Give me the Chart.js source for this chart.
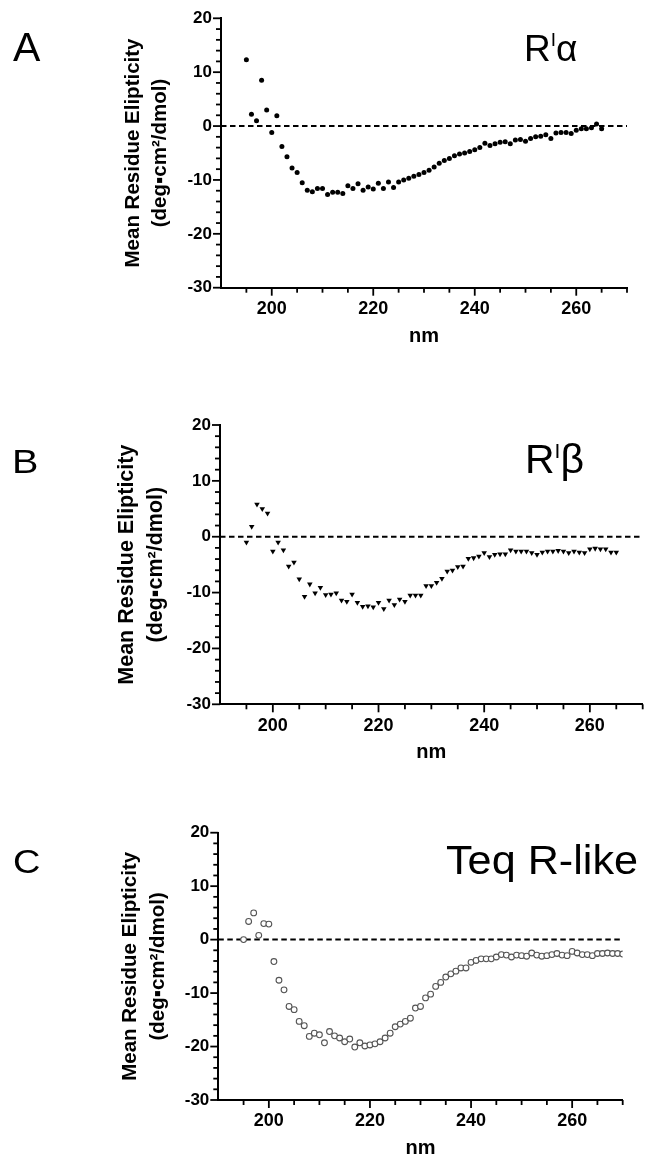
<!DOCTYPE html>
<html><head><meta charset="utf-8">
<script src="https://cdn.jsdelivr.net/npm/chart.js@4.4.1/dist/chart.umd.min.js"></script>
<style>
html,body{margin:0;padding:0;background:#fff;}
#page{position:relative;width:647px;height:1161px;overflow:hidden;font-family:"Liberation Sans",Arial,sans-serif;color:#000;}
.cv{position:absolute;left:0;width:647px;}
.lbl{position:absolute;white-space:nowrap;line-height:1;font-family:"Liberation Sans",Arial,sans-serif;color:#000;}
</style></head><body>
<div id="page">
  <div class="cv" style="top:0px;height:350px"><canvas id="cA"></canvas></div>
  <div class="cv" style="top:390px;height:380px"><canvas id="cB"></canvas></div>
  <div class="cv" style="top:790px;height:371px"><canvas id="cC"></canvas></div>

  <div class="lbl" style="left:13px;top:27px;font-size:41px;">A</div>
  <div class="lbl" style="left:12px;top:445px;font-size:33px;transform:scaleX(1.2);transform-origin:left top;">B</div>
  <div class="lbl" style="left:13px;top:845px;font-size:33px;transform:scaleX(1.15);transform-origin:left top;">C</div>

  <div class="lbl" style="left:524px;top:30px;font-size:37px;">R<span style="font-size:19px;position:relative;top:-14.7px;">I</span>α</div>
  <div class="lbl" style="left:525px;top:439px;font-size:41px;">R<span style="font-size:21px;position:relative;top:-15.3px;">I</span>β</div>
  <div class="lbl" style="left:446px;top:840px;font-size:40px;transform:scaleX(1.08);transform-origin:left top;">Teq R-like</div>
</div>
<script>
// ---- data ----
const nmA = [195,196,197,198,199,200,201,202,203,204,205,206,207,208,209,210,211,212,213,214,215,216,217,218,219,220,221,222,223,224,225,226,227,228,229,230,231,232,233,234,235,236,237,238,239,240,241,242,243,244,245,246,247,248,249,250,251,252,253,254,255,256,257,258,259,260,261,262,263,264,265];
const valA = [12.3,2.2,1.0,8.5,3.0,-1.2,1.9,-3.8,-5.7,-7.8,-8.6,-10.5,-11.9,-12.2,-11.6,-11.6,-12.7,-12.3,-12.3,-12.5,-11.1,-11.6,-10.7,-11.9,-11.3,-11.7,-10.6,-11.6,-10.4,-11.4,-10.4,
  -10.0,-9.7,-9.3,-9.0,-8.6,-8.2,-7.6,-6.9,-6.4,-6.0,-5.5,-5.2,-5.0,-4.7,-4.4,-4.0,-3.2,-3.6,-3.3,-3.0,-2.9,-3.3,-2.6,-2.5,-2.8,-2.3,-2.0,-1.9,-1.6,-2.3,-1.3,-1.2,-1.2,-1.4,-0.8,-0.5,-0.5,-0.3,0.4,-0.5];

const nmB = [195,196,197,198,199,200,201,202,203,204,205,206,207,208,209,210,211,212,213,214,215,216,217,218,219,220,221,222,223,224,225,226,227,228,229,230,231,232,233,234,235,236,237,238,239,240,241,242,243,244,245,246,247,248,249,250,251,252,253,254,255,256,257,258,259,260,261,262,263,264,265];
const valB = [-1.0,1.8,5.8,5.0,4.2,-2.6,-1.0,-2.4,-5.3,-4.6,-7.6,-10.7,-8.5,-10.1,-9.1,-10.4,-10.3,-10.1,-11.4,-11.6,-10.3,-11.8,-12.5,-12.4,-12.6,-11.8,-12.9,-11.4,-12.2,-11.2,
  -11.6,-10.5,-10.5,-10.5,-8.8,-8.8,-8.2,-7.5,-6.2,-6.0,-5.4,-5.3,-3.9,-3.8,-3.5,-2.9,-3.6,-3.2,-3.1,-3.1,-2.4,-2.6,-2.6,-2.6,-2.9,-3.2,-2.8,-2.6,-2.6,-2.5,-2.6,-2.9,-2.6,-2.8,-2.9,-2.2,-2.1,-2.2,-2.2,-2.8,-2.8];

const nmC = [195,196,197,198,199,200,201,202,203,204,205,206,207,208,209,210,211,212,213,214,215,216,217,218,219,220,221,222,223,224,225,226,227,228,229,230,231,232,233,234,235,236,237,238,239,240,241,242,243,244,245,246,247,248,249,250,251,252,253,254,255,256,257,258,259,260,261,262,263,264,265,266,267,268,269,270];
const valC = [0.0,3.4,5.0,0.8,3.0,2.9,-4.1,-7.6,-9.4,-12.5,-13.1,-15.3,-16.1,-18.1,-17.5,-17.8,-19.3,-17.2,-18.0,-18.4,-19.1,-18.6,-20.1,-19.3,-19.9,-19.7,-19.5,-19.1,-18.4,-17.5,-16.3,
  -15.8,-15.3,-14.7,-12.8,-12.5,-10.9,-10.2,-8.75,-8.0,-7.0,-6.4,-5.9,-5.3,-5.3,-4.25,-3.9,-3.6,-3.6,-3.6,-3.25,-2.8,-2.9,-3.25,-2.9,-3.0,-3.1,-2.5,-2.9,-3.1,-3.0,-2.8,-2.6,-2.9,-3.0,-2.2,-2.5,-2.8,-2.8,-3.0,-2.6,-2.6,-2.5,-2.6,-2.6,-2.7];

const xTickLabels = [200, 220, 240, 260];
const yTickLabels = [-30, -20, -10, 0, 10, 20];
const xRange = [190, 270];
const yRange = [-30, 20];
const yTitle = ['Mean Residue Elipticity', '(deg\u25AAcm\u00B2/dmol)'];
const xTitle = 'nm';

// ---- drawing ----
const FONT = '"Liberation Sans", Arial, sans-serif';

const axisMarks = {
  id: 'axisMarks',
  beforeDatasetsDraw(chart) {
    const {ctx, chartArea: a} = chart;
    const xs = chart.scales.x, ys = chart.scales.y;
    ctx.save();
    ctx.strokeStyle = '#000';
    ctx.lineWidth = 2;
    ctx.setLineDash([5.5, 3.5]);
    const y0 = ys.getPixelForValue(0);
    ctx.beginPath(); ctx.moveTo(a.left, y0); ctx.lineTo(a.right, y0); ctx.stroke();
    ctx.setLineDash([]);
    ctx.lineWidth = 1.8;
    xs.ticks.forEach(t => {
      if (t.value === xs.min) return;
      const px = xs.getPixelForValue(t.value);
      const len = xTickLabels.includes(t.value) ? 8 : 5;
      ctx.beginPath(); ctx.moveTo(px, a.bottom); ctx.lineTo(px, a.bottom + len); ctx.stroke();
    });
    ys.ticks.forEach(t => {
      const py = ys.getPixelForValue(t.value);
      const len = yTickLabels.includes(t.value) ? 8 : 5;
      ctx.beginPath(); ctx.moveTo(a.left, py); ctx.lineTo(a.left - len, py); ctx.stroke();
    });
    ctx.restore();
  }
};

function makeChart(id, nm, vals, p, ds) {
  const data = nm.map((x, i) => ({x: x, y: vals[i]}));
  return new Chart(document.getElementById(id), {
    type: 'scatter',
    data: {datasets: [Object.assign({data: data}, ds)]},
    options: {
      responsive: true,
      maintainAspectRatio: false,
      animation: false,
      layout: {padding: {left: 0, right: p.padRight, top: p.padTop, bottom: p.padBottom}},
      plugins: {legend: {display: false}, tooltip: {enabled: false}},
      scales: {
        x: {
          type: 'linear', min: xRange[0], max: xRange[1],
          border: {display: true, color: '#000', width: 2},
          grid: {display: true, drawOnChartArea: false, drawTicks: true, tickLength: 8, tickColor: 'rgba(0,0,0,0)'},
          ticks: {stepSize: 5, autoSkip: false, maxRotation: 0, padding: 2.5, color: '#000',
                  font: {family: FONT, size: 18, weight: 'bold'},
                  callback: v => xTickLabels.includes(v) ? String(v) : ''},
          title: {display: true, text: xTitle, color: '#000', padding: 0,
                  font: {family: FONT, size: 20, weight: 'bold', lineHeight: 1.2}},
          afterFit: s => { s.height = p.xH; }
        },
        y: {
          type: 'linear', min: yRange[0], max: yRange[1],
          border: {display: true, color: '#000', width: 2},
          grid: {display: true, drawOnChartArea: false, drawTicks: true, tickLength: 8, tickColor: 'rgba(0,0,0,0)'},
          ticks: {stepSize: 2, autoSkip: false, padding: 1, color: '#000',
                  font: {family: FONT, size: 17, weight: 'bold'},
                  callback: v => yTickLabels.includes(v) ? String(v) : ''},
          title: {display: true, text: yTitle, color: '#000', padding: {top: p.tPad, bottom: 0},
                  font: {family: FONT, size: p.tSize, weight: 'bold', lineHeight: p.tLH}},
          afterFit: s => { s.width = p.left; }
        }
      }
    },
    plugins: [axisMarks]
  });
}

makeChart('cA', nmA, valA,
  {left: 221, padRight: 20, padTop: 18.3, padBottom: 2, xH: 60.3, tPad: 120, tSize: 20.5, tLH: 1.3},
  {pointStyle: 'circle', pointRadius: 2.5, backgroundColor: '#000', borderColor: '#000', borderWidth: 0});

makeChart('cB', nmB, valB,
  {left: 220, padRight: 4.3, padTop: 35, padBottom: 6, xH: 59.7, tPad: 113, tSize: 21.5, tLH: 1.35},
  {pointStyle: 'triangle', rotation: 180, pointRadius: 3.2, backgroundColor: '#000', borderColor: '#000', borderWidth: 0});

makeChart('cC', nmC, valC,
  {left: 218.3, padRight: 24.3, padTop: 42.7, padBottom: 1, xH: 60, tPad: 117, tSize: 20.5, tLH: 1.34},
  {pointStyle: 'circle', pointRadius: 2.9, backgroundColor: '#fff', borderColor: '#555', borderWidth: 1.1});
</script>
</body></html>
